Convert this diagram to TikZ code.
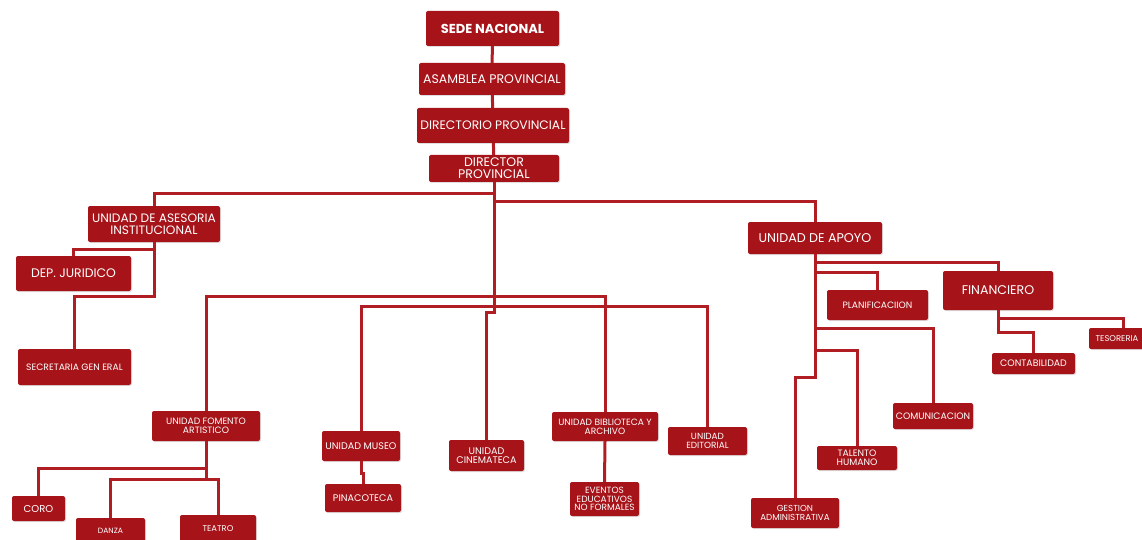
\documentclass[tikz,border=0pt]{standalone}
\usepackage{fontspec}
\setmainfont{Poppins}
\usetikzlibrary{shadows}

\definecolor{boxred}{RGB}{166,20,26}
\definecolor{linered}{RGB}{176,30,36}
\newcommand{\orgfs}[1]{\fontsize{#1}{0.95\dimexpr#1pt\relax}\selectfont}

\tikzset{
  unit/.style={fill=boxred, rounded corners=2pt, text=white, align=center,
    inner sep=1pt, drop shadow={shadow xshift=1pt, shadow yshift=-1pt, opacity=0.25}},
  sz/.style n args={3}{minimum width=#1, minimum height=#2, font=\orgfs{#3}},
  link/.style={draw=linered, line width=3pt},
}

\begin{document}
\begin{tikzpicture}[x=1pt, y=-1pt]
  \useasboundingbox (0,0) rectangle (1142,540);

  % Define nodes
  \node[unit, sz={133pt}{35pt}{13}, font=\orgfs{13}\bfseries] (sede) at (492.5,28.5) {SEDE NACIONAL};
  \node[unit, sz={146pt}{32pt}{12.5}] (asam) at (492,79) {ASAMBLEA PROVINCIAL};
  \node[unit, sz={152pt}{35pt}{12.3}] (dirp) at (493,125.5) {DIRECTORIO PROVINCIAL};
  \node[unit, sz={130pt}{27pt}{12.5}] (dir) at (494,168.5) {DIRECTOR\\PROVINCIAL};

  \node[unit, sz={132pt}{36pt}{12.2}] (ases) at (154,224) {UNIDAD DE ASESORIA\\INSTITUCIONAL};
  \node[unit, sz={115pt}{35pt}{12.4}] (jur) at (73.5,273.5) {DEP. JURIDICO};
  \node[unit, sz={113pt}{36pt}{9.2}]  (sec) at (74.5,367) {SECRETARIA GEN ERAL};

  \node[unit, sz={108pt}{30pt}{9.2}]  (fom) at (206,426) {UNIDAD FOMENTO\\ARTISTICO};
  \node[unit, sz={53pt}{25pt}{10}]    (coro) at (38.5,508.5) {CORO};
  \node[unit, sz={69pt}{26pt}{7.6}]   (danza) at (110.5,531) {DANZA};
  \node[unit, sz={76pt}{28pt}{8.4}]   (teatro) at (218,529) {TEATRO};

  \node[unit, sz={78pt}{30pt}{9.6}]   (museo) at (361,446) {UNIDAD MUSEO};
  \node[unit, sz={76pt}{28pt}{9.6}]   (pina) at (363,498) {PINACOTECA};
  \node[unit, sz={75pt}{31pt}{9.6}]   (cine) at (486.5,455.5) {UNIDAD\\CINEMATECA};
  \node[unit, sz={106pt}{29pt}{9.1}]  (bib) at (605,426.5) {UNIDAD BIBLIOTECA Y\\ARCHIVO};
  \node[unit, sz={69pt}{34pt}{9}]     (evt) at (604.5,499) {EVENTOS\\EDUCATIVOS\\NO FORMALES};
  \node[unit, sz={79pt}{28pt}{8.9}]   (edit) at (707.5,441) {UNIDAD\\EDITORIAL};

  \node[unit, sz={134pt}{32pt}{12.7}] (apoyo) at (815,238) {UNIDAD DE APOYO};
  \node[unit, sz={101pt}{30pt}{9.2}]  (plan) at (877.5,305) {PLANIFICACIION};
  \node[unit, sz={110pt}{39pt}{12.6}] (fin) at (998,290.5) {FINANCIERO};
  \node[unit, sz={56pt}{21pt}{8.4}]   (tes) at (1117,338.5) {TESORERIA};
  \node[unit, sz={83pt}{21pt}{9.4}]   (cont) at (1033.5,363.5) {CONTABILIDAD};
  \node[unit, sz={80pt}{26pt}{9.3}]   (com) at (933,416) {COMUNICACION};
  \node[unit, sz={80pt}{24pt}{9.3}]   (tal) at (857,458) {TALENTO\\HUMANO};
  \node[unit, sz={88pt}{30pt}{8.7}]   (ges) at (795,513) {GESTION\\ADMINISTRATIVA};

  \coordinate (busA) at (494,296);
  \coordinate (busB) at (494,306);

  % Connect the nodes
  \draw[link] (sede) -- (asam);
  \draw[link] (asam) -- (dirp);
  \draw[link] (dirp) -- (dir);
  \draw[link] (dir.south) -- ++(0,11) -| (ases.north);
  \draw[link] (dir.south) -- ++(0,19) -| (apoyo.north);
  \draw[link] (dir.south) -- ++(0,130) -| (cine.north);
  \draw[link] (fom.north) |- (busA) -| (bib.north);
  \draw[link] (museo.north) |- (busB) -| (edit.north);

  \draw[link] (ases.south) -- ++(0,7) -| (jur.north);
  \draw[link] (ases.south) -- ++(0,54) -| (sec.north);

  \draw[link] (fom.south) -- ++(0,27) -| (coro.north);
  \draw[link] (fom.south) -- ++(0,38) -| (danza.north);
  \draw[link] (fom.south) -- ++(0,38) -| (teatro.north);
  \draw[link] (museo.south) -- ++(0,12) -| (pina.north);
  \draw[link] (bib.south) -- (evt.north);

  \draw[link] (apoyo.south) -- ++(0,8) -| (fin.north);
  \draw[link] (apoyo.south) -- ++(0,18) -| (plan.north);
  \draw[link] (apoyo.south) -- ++(0,74) -| (com.north);
  \draw[link] (apoyo.south) -- ++(0,96) -| (tal.north);
  \draw[link] (apoyo.south) -- ++(0,123) -| (ges.north);
  \draw[link] (fin.south) -- ++(0,8) -| ([xshift=6pt]tes.north);
  \draw[link] (fin.south) -- ++(0,22) -| (cont.north);

\end{tikzpicture}
\end{document}
